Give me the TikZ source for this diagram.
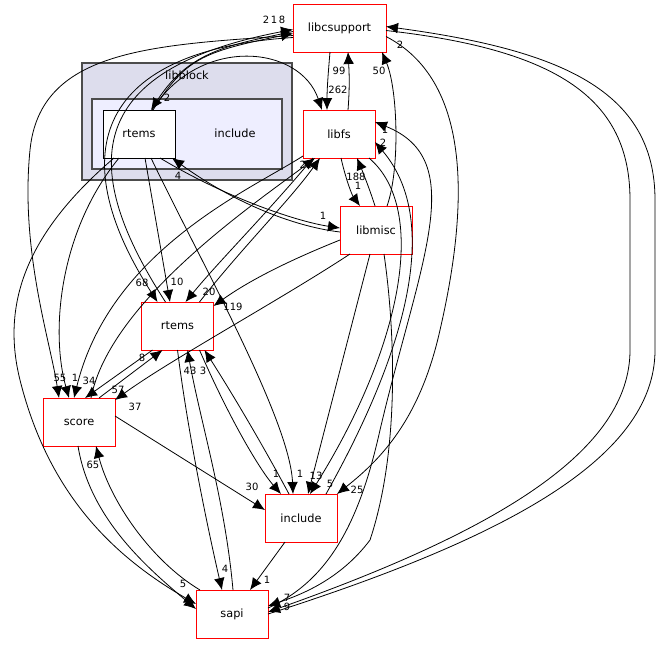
\documentclass[tikz,border=0pt]{standalone}
\usepackage{fontspec}
\setmainfont{DejaVu Sans}
\usetikzlibrary{arrows.meta,calc}
\begin{document}
\begin{tikzpicture}[x=0.75pt,y=-0.75pt,
  box/.style={draw=red,fill=white,minimum width=54pt,minimum height=36pt,inner sep=0pt,font=\fontsize{8.5}{9}\selectfont},
  e/.style={draw,line width=0.6pt,-{Latex[length=9pt,width=8pt]}},
  lb/.style={font=\fontsize{7.5}{8}\selectfont,inner sep=0pt}]
\useasboundingbox (0,0) rectangle (659,644);
\node[draw=black!70,line width=1pt,fill={rgb,255:red,221;green,221;blue,237},minimum width=157.5pt,minimum height=87.75pt,inner sep=0pt] (libblock) at (187,121.5) {};
\node[font=\fontsize{8.5}{9}\selectfont] (lbl) at (187,75) {libblock};
\node[draw=black!70,line width=1pt,fill={rgb,255:red,238;green,238;blue,255},minimum width=142.5pt,minimum height=52.5pt,inner sep=0pt] (incl) at (187,134) {};
\node[font=\fontsize{8.5}{9}\selectfont] (incllbl) at (235,133) {include};
\node[box,draw=black] (RT) at (139,134) {rtems};
\node[box,minimum width=70pt] (LC) at (339.5,28.5) {libcsupport};
\node[box] (LF) at (339,134) {libfs};
\node[box] (LM) at (376,230) {libmisc};
\node[box] (RM) at (177.5,326) {rtems};
\node[box] (SC) at (79,422) {score};
\node[box] (IN) at (301,518) {include};
\node[box] (SA) at (232,614) {sapi};

\draw[e] ($(LC)+(-9.5,23.5)$) .. controls (328,75) and (327,90) .. ($(LF)+(-12,-24)$);
\draw[e] ($(LF)+(9,-24)$) .. controls (350,85) and (349,70) .. ($(LC)+(8.5,23.5)$);
\draw[e] ($(LM)+(11,-24)$) .. controls (400,170) and (398,90) .. ($(LC)+(42.5,23.5)$);
\draw[e] ($(LF)+(2,24)$) .. controls (346,180) and (352,195) .. ($(LM)+(-16,-24)$);
\draw[e] ($(LM)+(-1,-24)$) .. controls (370,190) and (362,170) .. ($(LF)+(18,24)$);
\draw[e] ($(LC)+(-46.5,3)$) .. controls (230,45) and (190,50) .. ($(RT)+(12,-24)$);
\draw[e] ($(RT)+(14,-24)$) .. controls (185,60) and (200,52) .. ($(LC)+(-46.5,5)$);
\draw[e] ($(RT)+(13,-24)$) .. controls (200,35) and (300,45) .. ($(LF)+(-17,-24)$);
\draw[e] ($(RT)+(21,24)$) .. controls (230,200) and (300,222) .. ($(LM)+(-36,-2)$);
\draw[e] ($(LM)+(-36,2)$) .. controls (290,226) and (230,200) .. ($(RT)+(33,24)$);
\draw[e] ($(RT)+(6,24)$) -- ($(RM)+(-7.5,-24)$);
\draw[e] ($(RT)+(-25,24)$) .. controls (30,230) and (0,300) .. (20,380) .. controls (50,500) and (120,560) .. ($(SA)+(-36,-10)$);
\draw[e] ($(RT)+(-20,24)$) .. controls (60,230) and (50,330) .. ($(SC)+(-10,-24)$);
\draw[e] ($(RT)+(12,24)$) .. controls (200,260) and (290,420) .. ($(IN)+(-8,-24)$);
\draw[e] ($(LF)+(-26,24)$) .. controls (270,210) and (220,260) .. ($(RM)+(8,-24)$);
\draw[e] ($(RM)+(22,-24)$) .. controls (240,250) and (290,200) .. ($(LF)+(-19,24)$);
\draw[e] ($(LF)+(-36,22)$) .. controls (250,190) and (110,250) .. ($(SC)+(-5,-24)$);
\draw[e] ($(SC)+(12,-24)$) .. controls (110,300) and (260,200) .. ($(LF)+(-24,24)$);
\draw[e] ($(LM)+(-36,10)$) .. controls (290,260) and (250,280) .. ($(RM)+(36,-20)$);
\draw[e] ($(LM)+(-26,24)$) .. controls (280,300) and (170,360) .. ($(SC)+(36,-22)$);
\draw[e] ($(LM)+(-6,24)$) -- ($(IN)+(7,-24)$);
\draw[e] ($(LM)+(8,24)$) .. controls (395,330) and (400,450) .. (370,540) .. controls (340,580) and (300,595) .. ($(SA)+(36,-8)$);
\draw[e] ($(LF)+(30,24)$) .. controls (430,210) and (400,350) .. ($(IN)+(9,-24)$);
\draw[e] ($(IN)+(25,-24)$) .. controls (390,380) and (450,230) .. ($(LF)+(36,8)$);
\draw[e] ($(LC)+(46.5,8)$) .. controls (470,80) and (470,200) .. (440,330) .. controls (420,420) and (380,460) .. ($(IN)+(36,-24)$);
\draw[e] ($(SA)+(36,-6)$) .. controls (330,580) and (360,520) .. (380,430) .. controls (420,260) and (470,160) .. ($(LF)+(36,-12)$);
\draw[e] ($(LC)+(46.5,2)$) .. controls (560,50) and (630,100) .. (630,200) -- (630,350) .. controls (630,450) and (500,530) .. ($(SA)+(36,-2)$);
\draw[e] ($(SA)+(36,0)$) .. controls (500,540) and (655,460) .. (655,350) -- (655,200) .. controls (655,90) and (560,50) .. ($(LC)+(46.5,-2)$);
\draw[e] ($(LC)+(-46.5,7)$) .. controls (150,45) and (40,50) .. (30,150) .. controls (20,250) and (50,340) .. ($(SC)+(-20,-24)$);
\draw[e] ($(LC)+(-46.5,9)$) .. controls (100,50) and (60,150) .. ($(RM)+(-20,-24)$);
\draw[e] ($(RM)+(-12,-24)$) .. controls (80,170) and (80,70) .. ($(LC)+(-46.5,1)$);
\draw[e] ($(SC)+(20,-24)$) -- ($(RM)+(-15,24)$);
\draw[e] ($(RM)+(-25,24)$) -- ($(SC)+(6,-24)$);
\draw[e] ($(SC)+(36,-6)$) -- ($(IN)+(-36,-8)$);
\draw[e] ($(SC)+(-1,24)$) .. controls (90,520) and (150,570) .. ($(SA)+(-36,-5)$);
\draw[e] ($(SA)+(-32,-24)$) .. controls (150,560) and (110,500) .. ($(SC)+(17,24)$);
\draw[e] ($(RM)+(0,24)$) .. controls (190,450) and (215,560) .. ($(SA)+(-10,-24)$);
\draw[e] ($(SA)+(1,-24)$) .. controls (225,500) and (200,420) .. ($(RM)+(10,24)$);
\draw[e] ($(RM)+(22,24)$) .. controls (230,420) and (260,470) .. ($(IN)+(-20,-24)$);
\draw[e] ($(IN)+(-12,-24)$) .. controls (260,440) and (230,390) .. ($(RM)+(27,24)$);
\draw[e] ($(IN)+(-16,24)$) -- ($(SA)+(18,-24)$);

\node[lb] (l1) at (338,90) {262};
\node[lb] (l2) at (339,71) {99};
\node[lb] (l3) at (379,71) {50};
\node[lb] (l4) at (356,177) {188};
\node[lb] (l5) at (358,186) {1};
\node[lb] (l6) at (167,98) {2};
\node[lb] (l7) at (266,20) {2};
\node[lb] (l7b) at (274,20) {1};
\node[lb] (l7c) at (282,20) {8};
\node[lb] (l8) at (323,216) {1};
\node[lb] (l9) at (178,176) {4};
\node[lb] (l10) at (177,282) {10};
\node[lb] (l11) at (142,283) {68};
\node[lb] (l12) at (209,292) {20};
\node[lb] (l13) at (233,307) {119};
\node[lb] (l14) at (306,165) {23};
\node[lb] (l15) at (385,130) {1};
\node[lb] (l16) at (383,143) {2};
\node[lb] (l17) at (400,45) {2};
\node[lb] (l18) at (60,378) {55};
\node[lb] (l19) at (75,378) {1};
\node[lb] (l20) at (89,381) {34};
\node[lb] (l21) at (118,390) {57};
\node[lb] (l22) at (142,358) {8};
\node[lb] (l23) at (135,407) {37};
\node[lb] (l24) at (190,371) {43};
\node[lb] (l25) at (203,371) {3};
\node[lb] (l26) at (93,465) {65};
\node[lb] (l27) at (252,487) {30};
\node[lb] (l28) at (276,474) {1};
\node[lb] (l29) at (300,474) {1};
\node[lb] (l30) at (316,476) {13};
\node[lb] (l31) at (330,484) {5};
\node[lb] (l32) at (357,490) {25};
\node[lb] (l33) at (267,580) {1};
\node[lb] (l34) at (225,569) {4};
\node[lb] (l35) at (183,584) {5};
\node[lb] (l36) at (287,598) {7};
\node[lb] (l37) at (287,607) {9};
\end{tikzpicture}
\end{document}
